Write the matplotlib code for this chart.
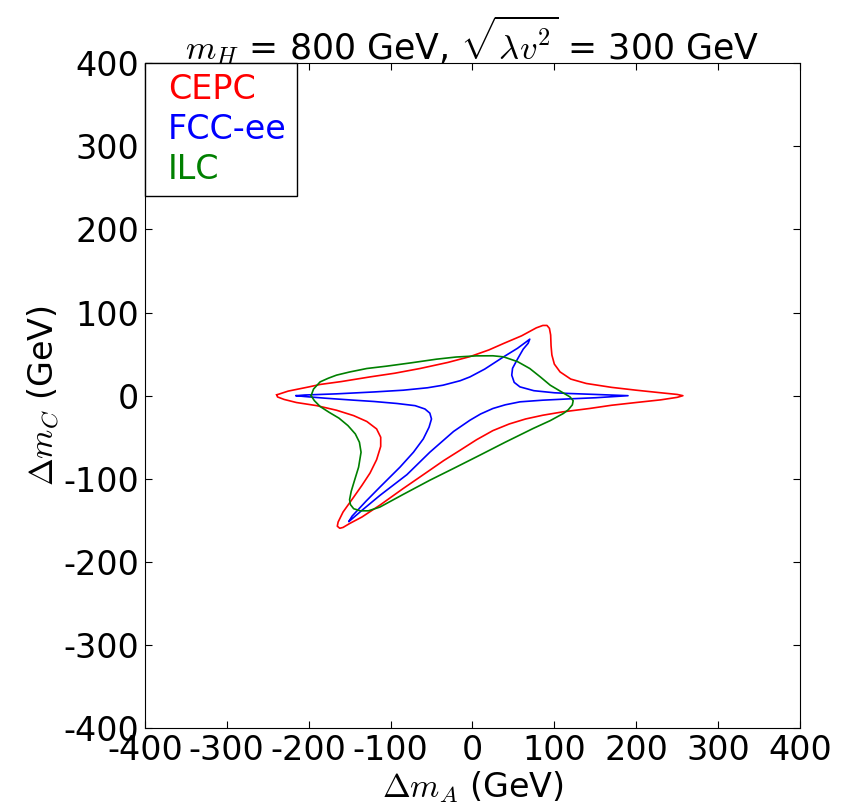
import matplotlib
matplotlib.use("Agg")
import matplotlib.pyplot as plt

plt.rcParams['mathtext.fontset'] = 'cm'
plt.rcParams['axes.unicode_minus'] = False
plt.rcParams['font.family'] = ['DejaVu Sans']

# contour points, (dm_A, dm_C) in GeV
cepc_x = [-239, -225, -215, -200, -186, -160, -125, -95, -64, -30, -3, 20, 38, 60, 78, 86, 91,
          94, 95.5, 96, 97, 100, 107, 120, 139, 170, 200, 230, 250, 257, 250, 230, 200, 170,
          143, 110, 86, 65, 45, 25, 5, -15, -35, -52, -85, -113, -135, -150, -158, -162, -165,
          -164, -158, -145, -135, -125, -117, -112, -112, -117, -129, -145, -166, -190, -215,
          -230, -238, -239]
cepc_y = [1, 5.5, 7.5, 10.5, 13.5, 17, 22.6, 27, 32.7, 40, 47, 55, 62.8, 72, 81.6, 84.5, 84.5,
          81, 73, 60, 49, 38, 28.6, 20, 14.7, 10, 6.6, 3.5, 1.5, 0, -2, -5, -8.2, -11.5, -15.4,
          -19.5, -23.5, -28, -34, -42, -53, -65.6, -78, -89.6, -112, -131.7, -146, -153.8,
          -158.5, -159.5, -157, -152, -140, -122, -108, -93, -77, -61, -50, -40, -31, -24,
          -17.5, -12, -8.2, -4.5, -1.5, 1]

fcc_x = [-215, -205, -166, -120, -84.5, -55, -36, -15, -3, 15, 38, 55, 66, 70, 68, 62, 55, 49,
         48, 51, 58, 75, 100, 119, 150, 190, 150, 119, 86, 58, 40, 25, 10, -3, -23, -52, -80,
         -113, -135, -148, -151, -147, -130, -113, -88.5, -72, -60, -53, -50, -52, -58, -70,
         -92, -120, -145, -180, -205, -215]
fcc_y = [0, 0.8, 2.2, 4.5, 6.6, 9.5, 12.6, 18, 22.6, 32, 46.7, 57, 65, 68, 63, 56, 44, 33, 24.7,
         16, 10.6, 6, 3.5, 2.6, 1.5, 0, -2.5, -3.8, -5.4, -7.4, -11, -15.4, -22, -29.5, -43, -68,
         -95, -120, -138, -149, -151.5, -145, -127, -110, -86, -68, -52, -38, -28, -21, -16,
         -12, -9.4, -7, -5.4, -3, -1, 0]

ilc_x = [-197, -194, -186, -176, -166, -150, -129, -105, -75, -44, -20, 5, 25, 38, 55, 70, 83,
         95, 108, 119, 123, 122, 117, 111, 95, 74, 40, 9, -22, -52, -85, -113, -127, -137, -145,
         -149, -150, -148, -144, -139, -136, -138, -143, -152, -163, -175, -186, -193, -197]
ilc_y = [0, 8, 16.6, 21, 24.7, 28.5, 32.7, 35.5, 39.5, 43.9, 46.5, 47.9, 48, 46.7, 41, 32.7,
         22.5, 12.6, 5, -1.4, -6, -11, -17, -21.4, -30, -39.5, -56, -71.6, -87, -101.7, -119,
         -134, -138.5, -138.5, -136, -131, -125, -115, -102, -86, -68, -56, -46, -36, -27, -20,
         -13, -6, 0]

ticks = [-400, -300, -200, -100, 0, 100, 200, 300, 400]

fig = plt.figure(figsize=(8.52, 8.10), dpi=100)
ax = fig.add_axes([0.170, 0.101, 0.769, 0.821])

ax.plot(cepc_x, cepc_y, color='red', lw=1.2, label='CEPC')
ax.plot(fcc_x, fcc_y, color='blue', lw=1.2, label='FCC-ee')
ax.plot(ilc_x, ilc_y, color='green', lw=1.2, label='ILC')

ax.set_xlim(-400, 400)
ax.set_ylim(-400, 400)
ax.set_xticks(ticks)
ax.set_yticks(ticks)
ax.tick_params(direction='in', top=True, right=True, length=5, labelsize=24, pad=4)

ax.set_xlabel(r'$\Delta m_A$ (GeV)', fontsize=24, labelpad=2)
ax.set_ylabel(r'$\Delta m_C$ (GeV)', fontsize=24, labelpad=2)
ax.set_title(r'$m_H$ = 800 GeV, $\sqrt{\lambda v^2}$ = 300 GeV', fontsize=25, pad=3)

leg = ax.legend(loc='upper left', fontsize=24, handlelength=0.4, handletextpad=0,
                fancybox=False, framealpha=1, edgecolor='black', borderaxespad=0,
                borderpad=0.3, labelspacing=0.2)
for txt, line in zip(leg.get_texts(), leg.get_lines()):
    txt.set_color(line.get_color())
    line.set_visible(False)
leg.get_frame().set_linewidth(1.0)

fig.savefig('out.png', dpi=100)
